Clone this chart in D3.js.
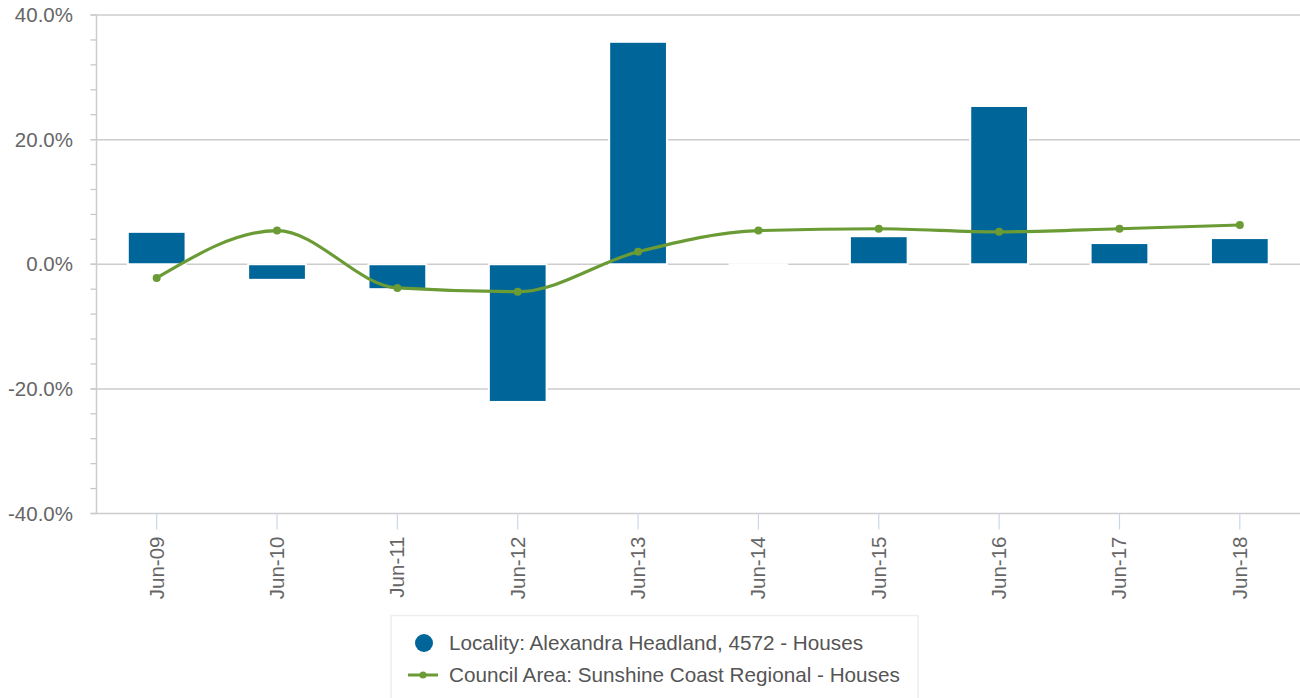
<!DOCTYPE html>
<html>
<head>
<meta charset="utf-8">
<script src="https://cdn.jsdelivr.net/npm/d3@7"></script>
<style>
  body { margin: 0; background: #fff; }
  text { font-family: "Liberation Sans", Arial, sans-serif; }
</style>
</head>
<body>
<svg class="chart" width="1300" height="698"></svg>
<script>
// data
var periods = ["Jun-09","Jun-10","Jun-11","Jun-12","Jun-13","Jun-14","Jun-15","Jun-16","Jun-17","Jun-18"];
var localityValues = [5.2, -2.5, -4.0, -22.1, 35.7, 0, 4.5, 25.4, 3.4, 4.2];
var councilValues = [-2.2, 5.4, -3.8, -4.4, 2.0, 5.4, 5.7, 5.2, 5.7, 6.3];
var yTicks = [-40, -20, 0, 20, 40];
var seriesNames = ["Locality: Alexandra Headland, 4572 - Houses", "Council Area: Sunshine Coast Regional - Houses"];

var barColor = "#006699", lineColor = "#6a9b34";
var svg = d3.select(".chart");

var plotLeft = 96.5, plotRight = 1300, plotTop = 15, plotBottom = 513.5;

var x = d3.scaleBand().domain(periods).range([plotLeft, plotRight]).paddingInner(0.52).paddingOuter(0.26);
var xc = function(d) { return x(d) + x.bandwidth() / 2; };
var y = d3.scaleLinear().domain([-40, 40]).range([plotBottom, plotTop]);

// minor ticks every 4%
svg.append("g").selectAll("line").data(d3.range(-40, 41, 4)).enter().append("line")
  .attr("x1", plotLeft - 6).attr("x2", plotLeft).attr("y1", d => y(d)).attr("y2", d => y(d))
  .attr("stroke", "#c8c8c8").attr("stroke-width", 1.3);

// gridlines
svg.append("g").selectAll("line").data(yTicks).enter().append("line")
  .attr("x1", plotLeft - 6).attr("x2", plotRight).attr("y1", d => y(d)).attr("y2", d => y(d))
  .attr("stroke", "#cccccc").attr("stroke-width", 1.5);

// y axis line
svg.append("line").attr("x1", plotLeft).attr("x2", plotLeft).attr("y1", plotTop).attr("y2", plotBottom)
  .attr("stroke", "#cccccc").attr("stroke-width", 1.5);

// y labels
svg.append("g").selectAll("text").data(yTicks).enter().append("text")
  .attr("x", 73).attr("y", d => y(d) + 7).attr("text-anchor", "end")
  .attr("font-size", 20.5).attr("fill", "#666").text(d => d.toFixed(1) + "%");

// x ticks + labels
var xg = svg.append("g");
xg.selectAll("line").data(periods).enter().append("line")
  .attr("x1", xc).attr("x2", xc).attr("y1", plotBottom).attr("y2", plotBottom + 16)
  .attr("stroke", "#ccd6eb").attr("stroke-width", 1.2);
xg.selectAll("text").data(periods).enter().append("text")
  .attr("transform", d => "translate(" + (xc(d) + 7) + "," + (plotBottom + 23) + ") rotate(-90)")
  .attr("text-anchor", "end").attr("font-size", 20.5).attr("fill", "#666").text(d => d);

// bars (zero bar kept as a sliver so its white edge breaks the zero line)
svg.append("g").selectAll("rect").data(localityValues).enter().append("rect")
  .attr("x", (d, i) => x(periods[i]))
  .attr("width", x.bandwidth())
  .attr("y", d => y(Math.max(0, d)))
  .attr("height", d => Math.max(0.01, Math.abs(y(d) - y(0))))
  .attr("fill", barColor).attr("stroke", "#fff").attr("stroke-width", 2);

// council line
var line = d3.line().x((d, i) => xc(periods[i])).y(d => y(d)).curve(d3.curveMonotoneX);
svg.append("path").datum(councilValues).attr("d", line)
  .attr("fill", "none").attr("stroke", lineColor).attr("stroke-width", 3.2);
svg.append("g").selectAll("circle").data(councilValues).enter().append("circle")
  .attr("cx", (d, i) => xc(periods[i])).attr("cy", d => y(d)).attr("r", 4).attr("fill", lineColor);

// legend
var lg = svg.append("g");
lg.append("rect").attr("x", 391).attr("y", 615.5).attr("width", 527).attr("height", 100)
  .attr("fill", "#fff").attr("stroke", "#eeeeee").attr("stroke-width", 1.5);
lg.append("circle").attr("cx", 424).attr("cy", 643).attr("r", 9).attr("fill", barColor);
lg.append("line").attr("x1", 408).attr("x2", 438).attr("y1", 675).attr("y2", 675)
  .attr("stroke", lineColor).attr("stroke-width", 3);
lg.append("circle").attr("cx", 423).attr("cy", 675).attr("r", 3.5).attr("fill", lineColor);
lg.selectAll("text.item").data(seriesNames).enter().append("text").attr("class", "item")
  .attr("x", 449).attr("y", (d, i) => 650 + i * 32)
  .attr("font-size", 20.7).attr("fill", "#555").text(d => d);
</script>
</body>
</html>
